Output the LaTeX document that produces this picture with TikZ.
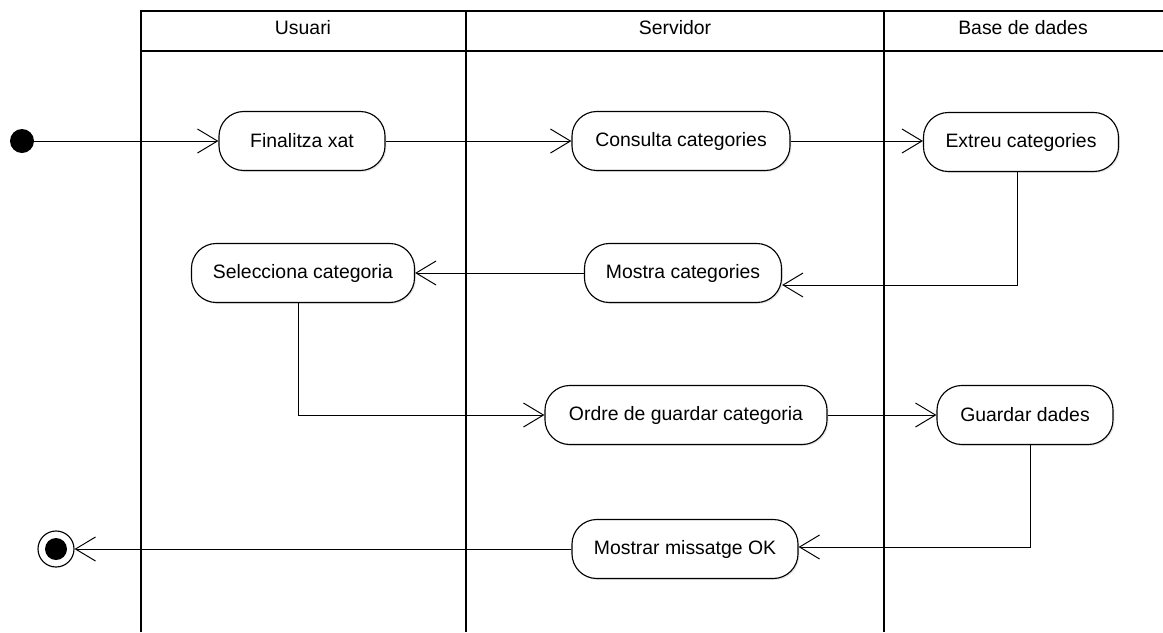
\documentclass[tikz,border=0pt]{standalone}
\usepackage{fontspec}
\setmainfont{Liberation Sans}
\usetikzlibrary{arrows.meta, positioning, shadows}
\tikzset{
    action/.style={rectangle, draw, line width=0.8pt, rounded corners=0.62cm, fill=white, align=center, minimum height=1.475cm, font=\fontsize{13.8}{16}\selectfont, drop shadow={shadow xshift=1pt, shadow yshift=-1pt, opacity=0.2}},
    arrow/.style={line width=0.7pt, ->, >={Straight Barb[length=0.5cm, width=0.6cm]}},
    lane/.style={line width=1pt},
    lanetitle/.style={font=\fontsize{13.8}{16}\selectfont}
}

\begin{document}
\begin{tikzpicture}[x=0.025cm, y=-0.025cm]

    \useasboundingbox (0,0) rectangle (1163,632);

    % Swimlanes
    \draw[lane] (141,632) -- (141,11) -- (1163,11);
    \draw[lane] (141,51) -- (1163,51);
    \draw[lane] (466,11) -- (466,632);
    \draw[lane] (884,11) -- (884,632);
    \node[lanetitle] (L1) at (303,28) {Usuari};
    \node[lanetitle] (L2) at (675,28) {Servidor};
    \node[lanetitle] (L3) at (1023,28) {Base de dades};

    % Start and end
    \node[circle, fill=black, minimum size=0.6cm, inner sep=0pt] (Start) at (22,141) {};
    \node[circle, draw, line width=0.8pt, fill=white, minimum size=0.9cm, inner sep=0pt] (End) at (56,549) {};
    \node[circle, fill=black, minimum size=0.55cm, inner sep=0pt] (EndDot) at (End) {};

    % Actions
    \node[action, minimum width=4.15cm] (A1) at (302,141) {Finalitza xat};
    \node[action, minimum width=5.45cm] (A2) at (681,141) {Consulta categories};
    \node[action, minimum width=4.875cm] (A3) at (1021,142) {Extreu categories};
    \node[action, minimum width=5.575cm] (A4) at (303,273) {Selecciona categoria};
    \node[action, minimum width=4.925cm] (A5) at (683,273) {Mostra categories};
    \node[action, minimum width=7.05cm] (A6) at (686,415) {Ordre de guardar categoria};
    \node[action, minimum width=4.4cm] (A7) at (1025,415) {Guardar dades};
    \node[action, minimum width=5.65cm] (A8) at (685,549) {Mostrar missatge OK};

    % Arrows
    \draw[arrow] (Start) -- (A1);
    \draw[arrow] (A1) -- (A2);
    \draw[arrow] (A2) -- (A3.west |- A2);
    \draw[arrow] ([xshift=-0.1cm]A3.south) |- ([yshift=-0.3cm]A5.east);
    \draw[arrow] (A5) -- (A4);
    \draw[arrow] ([xshift=-0.125cm]A4.south) |- (A6.west);
    \draw[arrow] (A6) -- (A7);
    \draw[arrow] ([xshift=0.125cm]A7.south) |- ([yshift=0.05cm]A8.east);
    \draw[arrow] (A8.west) -- (End.east);

\end{tikzpicture}
\end{document}
